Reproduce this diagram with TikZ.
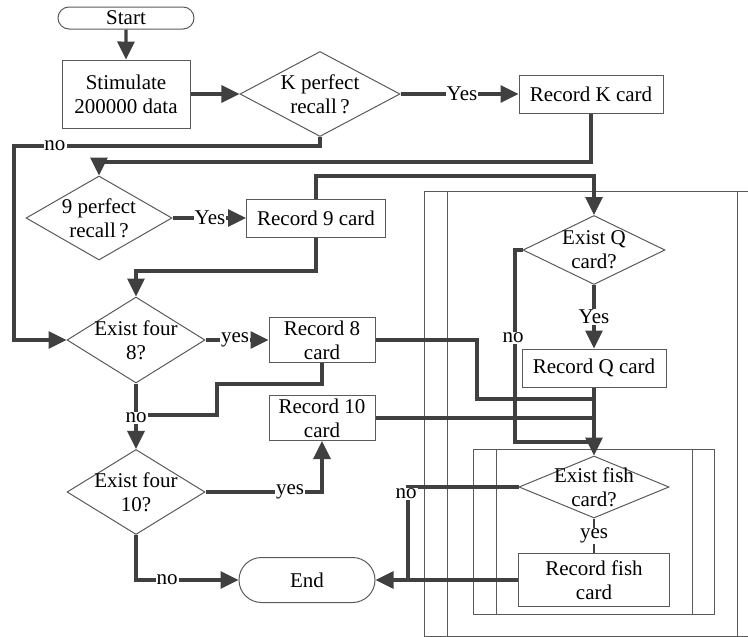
\documentclass[tikz,border=0pt]{standalone}
\usepackage{fontspec}
\setmainfont{Liberation Serif}
\usetikzlibrary{shapes.geometric,shapes.misc,arrows.meta}
\definecolor{linec}{HTML}{404040}
\definecolor{edgec}{HTML}{5A5A5A}
\begin{document}
\begin{tikzpicture}[x=1pt,y=-1pt,
  every node/.style={font=\fontsize{21}{24}\selectfont},
  box/.style={draw=edgec,line width=1pt,rectangle,inner sep=0pt,align=center},
  dia/.style={draw=edgec,line width=1pt,diamond,inner sep=0pt},
  term/.style={draw=edgec,line width=1pt,rounded rectangle,inner sep=0pt},
  conn/.style={draw=linec,line width=3.2pt,-{Triangle[length=18pt,width=17pt]}},
  link/.style={draw=linec,line width=3.2pt},
  lbl/.style={fill=white,inner sep=1pt},
  frame/.style={draw=edgec,line width=1pt}]
\useasboundingbox (0,0) rectangle (748,637);

% outer loop frame and inner fish-card frame
\draw[frame] (424,191) -- (748,191);
\draw[frame] (424,636) -- (748,636);
\draw[frame] (424,191) -- (424,636);
\draw[frame] (447,191) -- (447,636);
\draw[frame] (737,191) -- (737,636);
\draw[frame] (473,449) rectangle (714,614);
\draw[frame] (496,449) -- (496,614);
\draw[frame] (692,449) -- (692,614);

% nodes
\node[term,minimum width=136pt,minimum height=22pt] (start) at (126,18) {Start};
\node[box,minimum width=128pt,minimum height=68pt] (stim) at (126,94) {Stimulate\\200000 data};
\node[dia,minimum width=160pt,minimum height=85pt,
      label={[align=center]center:K perfect\\recall\,?}] (dK) at (320,94) {};
\node[box,minimum width=144pt,minimum height=38pt] (rK) at (591,94) {Record K card};
\node[dia,minimum width=146pt,minimum height=84pt,
      label={[align=center]center:9 perfect\\recall\,?}] (d9) at (99,218) {};
\node[box,minimum width=139pt,minimum height=38pt] (r9) at (316,218) {Record 9 card};
\node[dia,minimum width=138pt,minimum height=86pt,
      label={[align=center]center:Exist four\\8?}] (d8) at (136,340) {};
\node[box,minimum width=106pt,minimum height=45pt] (r8) at (322,340) {Record 8\\card};
\node[box,minimum width=106pt,minimum height=45pt] (r10) at (322,418) {Record 10\\card};
\node[dia,minimum width=138pt,minimum height=85pt,
      label={[align=center]center:Exist four\\10?}] (d10) at (136,492) {};
\node[term,minimum width=136pt,minimum height=45pt] (endn) at (307,580) {End};
\node[dia,minimum width=142pt,minimum height=69pt,
      label={[align=center]center:Exist Q\\card?}] (dQ) at (594,250) {};
\node[box,minimum width=144pt,minimum height=38pt] (rQ) at (594,368) {Record Q card};
\node[dia,minimum width=150pt,minimum height=62pt,
      label={[align=center]center:Exist fish\\card?}] (dF) at (594,487) {};
\node[box,minimum width=151pt,minimum height=53pt] (rF) at (594,580) {Record fish\\card};

% bend points of the connectors
\coordinate (jK) at (14,146);
\coordinate (j2) at (99,162);
\coordinate (j3) at (594,176);
\coordinate (j4) at (136,271);
\coordinate (j5) at (217,384);
\coordinate (j6) at (136,415);
\coordinate (j7) at (477,399);
\coordinate (j8) at (594,399);
\coordinate (j9) at (594,418);
\coordinate (j10) at (515,442);
\coordinate (j11) at (594,442);
\coordinate (j12) at (408,580);

% connectors
\draw[conn] (start) -- (stim);
\draw[conn] (stim) -- (dK);
\draw[conn] (dK) -- (rK);
\draw[conn] (dK.south) |- (jK) |- (d8.west);
\draw[conn] (rK.south) |- (j2) -- (d9.north);
\draw[conn] (d9) -- (r9);
\draw[conn] (r9.north) |- (j3) -- (dQ.north);
\draw[conn] (r9.south) |- (j4) -- (d8.north);
\draw[conn] (d8) -- (r8);
\draw[conn] (d8) -- (d10);
\draw[link] (r8.south) |- (j5) |- (j6);
\draw[link] (r8.east) -| (j7) -- (j8);
\draw[link] (r10.east) -- (j9);
\draw[conn] (d10.east) -| (r10.south);
\draw[conn] (d10.south) |- (endn.west);
\draw[conn] (dQ.south) -- (rQ.north);
\draw[link] (dQ.west) -| (j10) -- (j11);
\draw[conn] (rQ.south) -- (dF.north);
\draw[link,line width=1.5pt] (dF.south) -- (rF.north);
\draw[link] (dF.west) -| (j12);
\draw[conn] (rF.west) -- (endn.east);

% connector labels
\node[lbl] (lyK) at (462,94) {Yes};
\node[lbl] (lnK) at (55,146) {no};
\node[lbl] (ly9) at (210,218) {Yes};
\node[lbl] (ly8) at (235,340) {yes};
\node[lbl] (ln8) at (136,418) {no};
\node[lbl] (ly10) at (290,492) {yes};
\node[lbl] (ln10) at (167,580) {no};
\node[lbl] (lyQ) at (594,317) {Yes};
\node[lbl] (lnQ) at (513,338) {no};
\node[lbl] (lyF) at (594,536) {yes};
\node[lbl] (lnF) at (406,494) {no};
\end{tikzpicture}
\end{document}
